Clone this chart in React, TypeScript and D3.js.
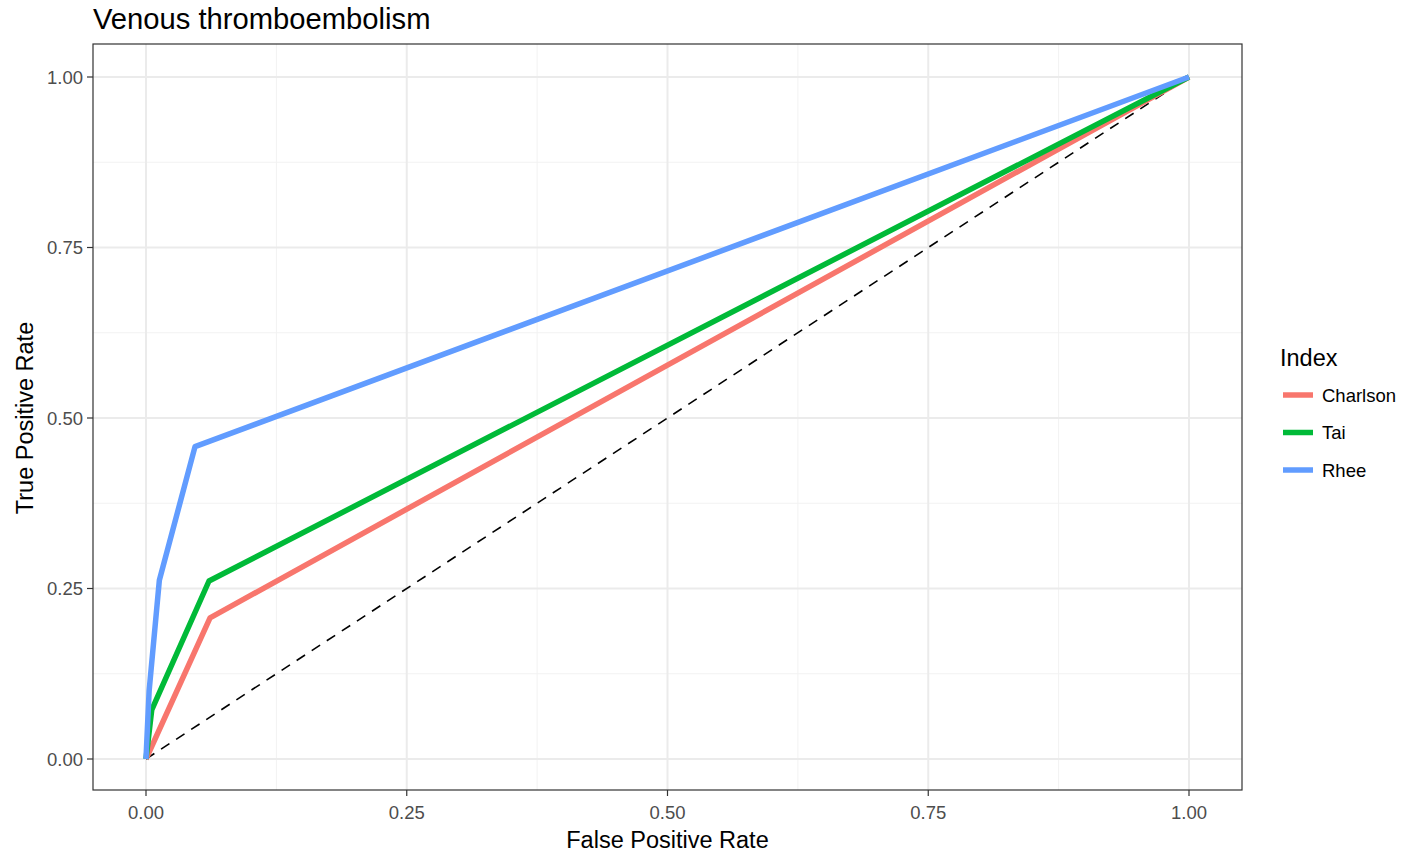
import React from "react";
import * as d3 from "d3";

// ROC curves
const seriesNames = ["Charlson", "Tai", "Rhee"];
const seriesColors = ["#F8766D", "#00BA38", "#619CFF"];
const charlsonFpr = [0, 0.0614, 1];
const charlsonTpr = [0, 0.207, 1];
const taiFpr = [0, 0.0055, 0.0604, 1];
const taiTpr = [0, 0.072, 0.261, 1];
const rheeFpr = [0, 0.003, 0.0128, 0.047, 1];
const rheeTpr = [0, 0.1, 0.262, 0.458, 1];
const tickValues = [0, 0.25, 0.5, 0.75, 1];
const minorValues = [0.125, 0.375, 0.625, 0.875];

const App = () => {
  const width = 1404;
  const height = 853;
  const panel = { left: 93, right: 1242, top: 44, bottom: 790 };

  const x = d3.scaleLinear().domain([0, 1]).range([146, 1189]);
  const y = d3.scaleLinear().domain([0, 1]).range([759, 77]);

  const series = [
    { fpr: charlsonFpr, tpr: charlsonTpr },
    { fpr: taiFpr, tpr: taiTpr },
    { fpr: rheeFpr, tpr: rheeTpr },
  ];

  const line = d3
    .line<[number, number]>()
    .x((d) => x(d[0]))
    .y((d) => y(d[1]));

  const fmt = d3.format(".2f");
  const font = "'Liberation Sans', Arial, sans-serif";

  return (
    <svg
      width={width}
      height={height}
      style={{ position: "absolute", left: 0, top: 0, fontFamily: font }}
    >
      <rect width={width} height={height} fill="#fff" />
      {/* grid */}
      {minorValues.map((v) => (
        <g key={"m" + v}>
          <line x1={x(v)} x2={x(v)} y1={panel.top} y2={panel.bottom} stroke="#F2F2F2" strokeWidth={1} />
          <line x1={panel.left} x2={panel.right} y1={y(v)} y2={y(v)} stroke="#F2F2F2" strokeWidth={1} />
        </g>
      ))}
      {tickValues.map((v) => (
        <g key={"g" + v}>
          <line x1={x(v)} x2={x(v)} y1={panel.top} y2={panel.bottom} stroke="#EBEBEB" strokeWidth={2} />
          <line x1={panel.left} x2={panel.right} y1={y(v)} y2={y(v)} stroke="#EBEBEB" strokeWidth={2} />
        </g>
      ))}
      {/* chance line */}
      <line
        x1={x(0)}
        y1={y(0)}
        x2={x(1)}
        y2={y(1)}
        stroke="#000"
        strokeWidth={1.6}
        strokeDasharray="10 8"
      />
      {series.map((s, i) => (
        <path
          key={seriesNames[i]}
          d={line(s.fpr.map((f, j) => [f, s.tpr[j]] as [number, number])) || ""}
          fill="none"
          stroke={seriesColors[i]}
          strokeWidth={5.5}
          strokeLinejoin="round"
        />
      ))}
      <rect
        x={panel.left}
        y={panel.top}
        width={panel.right - panel.left}
        height={panel.bottom - panel.top}
        fill="none"
        stroke="#333"
        strokeWidth={1.2}
      />
      {/* axes ticks */}
      {tickValues.map((v) => (
        <g key={"t" + v}>
          <line x1={x(v)} x2={x(v)} y1={panel.bottom} y2={panel.bottom + 6} stroke="#333" strokeWidth={1.2} />
          <text x={x(v)} y={819} textAnchor="middle" fontSize={18.5} fill="#4D4D4D">
            {fmt(v)}
          </text>
          <line x1={panel.left - 6} x2={panel.left} y1={y(v)} y2={y(v)} stroke="#333" strokeWidth={1.2} />
          <text x={83} y={y(v) + 6.5} textAnchor="end" fontSize={18.5} fill="#4D4D4D">
            {fmt(v)}
          </text>
        </g>
      ))}
      <text x={(panel.left + panel.right) / 2} y={848} textAnchor="middle" fontSize={23.5} fill="#000">
        False Positive Rate
      </text>
      <text
        transform={`translate(33,418) rotate(-90)`}
        textAnchor="middle"
        fontSize={23.5}
        fill="#000"
      >
        True Positive Rate
      </text>
      <text x={93} y={29} fontSize={29.2} fill="#000">
        Venous thromboembolism
      </text>
      {/* legend */}
      <text x={1280} y={366} fontSize={23.5} fill="#000">
        Index
      </text>
      {seriesNames.map((n, i) => (
        <g key={"l" + n} transform={`translate(0,${395 + i * 37.5})`}>
          <line x1={1283} x2={1313} y1={0} y2={0} stroke={seriesColors[i]} strokeWidth={5.5} />
          <text x={1322} y={6.5} fontSize={18.5} fill="#000">
            {n}
          </text>
        </g>
      ))}
    </svg>
  );
};

export default App;
